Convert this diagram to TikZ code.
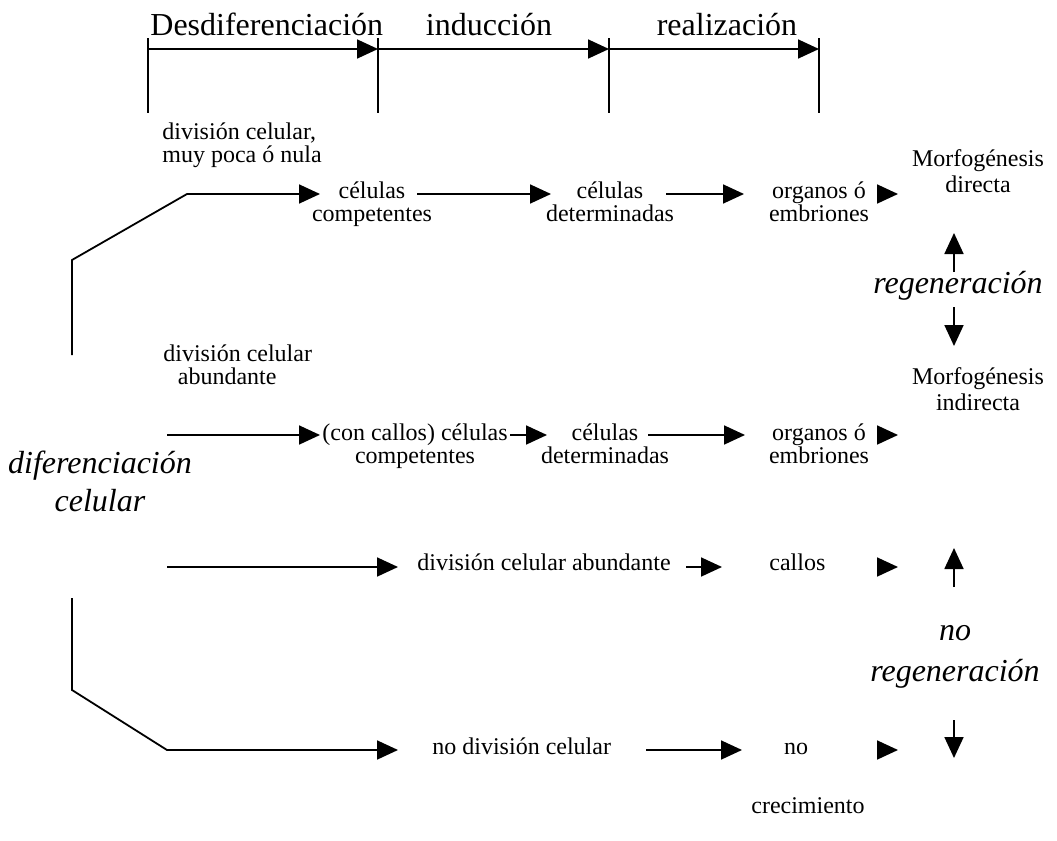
\documentclass[tikz,border=0pt]{standalone}
\usepackage{fontspec}
\setmainfont{Liberation Serif}
\usetikzlibrary{arrows.meta,positioning}
\tikzset{
  arr/.style={-{Triangle[length=10.5pt,width=9.5pt]}, line width=0.9pt},
  sm/.style={font=\fontsize{12}{11.5}\selectfont, inner sep=0pt, align=center, anchor=base},
  big/.style={font=\fontsize{16}{18}\selectfont, inner sep=0pt, anchor=base},
  ital/.style={font=\fontsize{16}{19}\selectfont\itshape, inner sep=0pt, align=center, anchor=base}
}
\begin{document}
\begin{tikzpicture}[x=0.5pt,y=-0.5pt]
\useasboundingbox (0,0) rectangle (1057,841);
% fases
\foreach \x/\n in {148/t1,378/t2,609/t3,819/t4}{
  \coordinate (\n) at (\x,49);
  \draw[line width=0.9pt] (\x,38) -- (\x,113);
}
\draw[arr] (t1) -- (t2);
\draw[arr] (t2) -- (t3);
\draw[arr] (t3) -- (t4);
\node[big, anchor=base west] (desdif) at (150,35) {Desdiferenciación};
\node[big] (induc) at (489,35) {inducción};
\node[big] (realiz) at (727,35) {realización};

% origen (multi-line nodes: base = last line)
\node[ital] (difcel) at (100,511) {diferenciación\\celular};

% fila 1: morfogenesis directa
\node[sm, anchor=base west, align=left] (div1) at (162,162) {división celular,\\muy poca ó nula};
\coordinate (s1) at (72,355);
\coordinate (k1) at (72,260);
\coordinate (k2) at (187,194);
\coordinate (e1) at (320,194);
\draw[arr] (s1) -- (k1) -- (k2) -- (e1);
\node[sm] (comp1) at (372,221) {células\\competentes};
\coordinate (a2s) at (417,194);
\coordinate (a2e) at (551,194);
\draw[arr] (a2s) -- (a2e);
\node[sm] (det1) at (610,221) {células\\determinadas};
\coordinate (a3s) at (666,194);
\coordinate (a3e) at (744,194);
\draw[arr] (a3s) -- (a3e);
\node[sm] (org1) at (819,221) {organos ó\\embriones};
\coordinate (p1s) at (877,194);
\coordinate (p1e) at (898,194);
\draw[arr] (p1s) -- (p1e);
\node[sm, font=\fontsize{12}{13}\selectfont] (morf1) at (978,192) {Morfogénesis\\directa};

% regeneracion
\node[ital] (regen) at (958,293) {regeneración};
\coordinate (u1) at (954,272);
\coordinate (u2) at (954,233);
\coordinate (d1) at (954,307);
\coordinate (d2) at (954,346);
\draw[arr] (u1) -- (u2);
\draw[arr] (d1) -- (d2);

% fila 2: morfogenesis indirecta
\node[sm, anchor=base west, align=left] (div2) at (163,384) {división celular\\\hspace*{7.25pt}abundante};
\coordinate (s2) at (167,435);
\coordinate (e2) at (320,435);
\draw[arr] (s2) -- (e2);
\node[sm, anchor=base west] (comp2) at (322,463) {(con callos) células\\competentes};
\coordinate (a5s) at (510,435);
\coordinate (a5e) at (547,435);
\draw[arr] (a5s) -- (a5e);
\node[sm] (det2) at (605,463) {células\\determinadas};
\coordinate (a6s) at (648,435);
\coordinate (a6e) at (745,435);
\draw[arr] (a6s) -- (a6e);
\node[sm] (org2) at (819,463) {organos ó\\embriones};
\coordinate (p2s) at (877,435);
\coordinate (p2e) at (898,435);
\draw[arr] (p2s) -- (p2e);
\node[sm, font=\fontsize{12}{13}\selectfont] (morf2) at (978,410) {Morfogénesis\\indirecta};

% fila 3: callos
\coordinate (s3) at (167,567);
\coordinate (e3) at (398,567);
\draw[arr] (s3) -- (e3);
\node[sm, anchor=base west] (abund3) at (417,570) {división celular abundante};
\coordinate (a8s) at (686,567);
\coordinate (a8e) at (722,567);
\draw[arr] (a8s) -- (a8e);
\node[sm, anchor=base west] (callos) at (769,570) {callos};
\coordinate (p3s) at (877,567);
\coordinate (p3e) at (898,567);
\draw[arr] (p3s) -- (p3e);

% no regeneracion
\node[ital, font=\fontsize{16}{20.5}\selectfont\itshape] (noregen) at (955,681) {no\\regeneración};
\coordinate (u3) at (954,587);
\coordinate (u4) at (954,548);
\coordinate (d3) at (954,720);
\coordinate (d4) at (954,758);
\draw[arr] (u3) -- (u4);
\draw[arr] (d3) -- (d4);

% fila 4: no crecimiento
\coordinate (s4) at (72,598);
\coordinate (k3) at (72,690);
\coordinate (k4) at (167,750);
\coordinate (e4) at (398,750);
\draw[arr] (s4) -- (k3) -- (k4) -- (e4);
\node[sm, anchor=base west] (nodiv) at (432,754) {no división celular};
\coordinate (a9s) at (646,750);
\coordinate (a9e) at (742,750);
\draw[arr] (a9s) -- (a9e);
\node[sm] (no4) at (796,754) {no};
\node[sm] (crec) at (808,813) {crecimiento};
\coordinate (p4s) at (877,750);
\coordinate (p4e) at (898,750);
\draw[arr] (p4s) -- (p4e);
\end{tikzpicture}
\end{document}
